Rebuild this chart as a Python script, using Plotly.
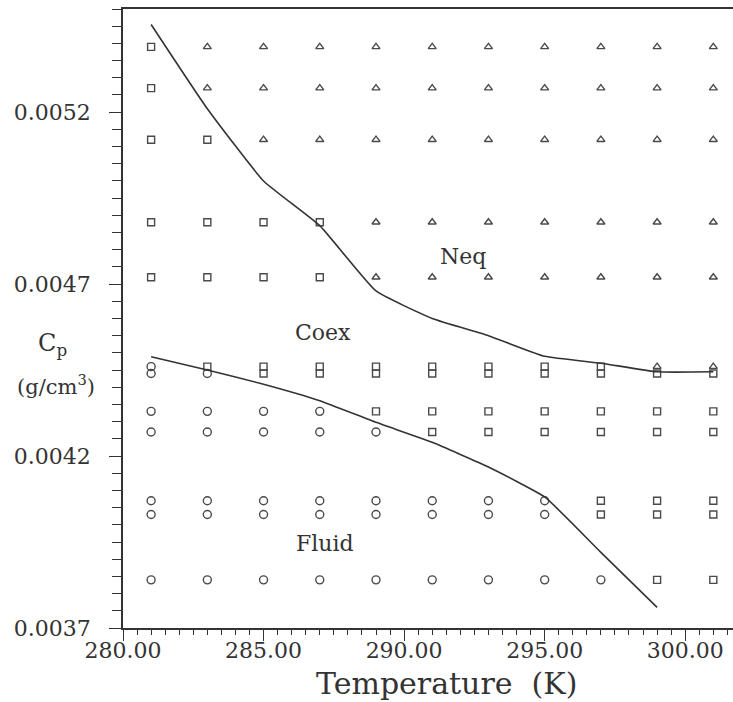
import plotly.graph_objects as go

# ---- data ----
temperatures = [281, 283, 285, 287, 289, 291, 293, 295, 297, 299, 301]
densities = [0.00539, 0.00527, 0.00512, 0.00488, 0.00472, 0.00446,
             0.00444, 0.00433, 0.00427, 0.00407, 0.00403, 0.00384]
# phase per row (top to bottom), one letter per temperature:
# S = Coex (square), N = Neq (triangle), F = Fluid (circle)
phase_rows = [
    "SNNNNNNNNNN",
    "SNNNNNNNNNN",
    "SSNNNNNNNNN",
    "SSSSNNNNNNN",
    "SSSSNNNNNNN",
    "FSSSSSSSSNN",
    "FFSSSSSSSSS",
    "FFFFSSSSSSS",
    "FFFFFSSSSSS",
    "FFFFFFFFSSS",
    "FFFFFFFFSSS",
    "FFFFFFFFFSS",
]
upper_T = [281, 283, 285, 287, 289, 291, 293, 295, 297, 299, 301]
upper_rho = [0.005455, 0.00521, 0.00500, 0.00487, 0.00468, 0.00460,
             0.00455, 0.00449, 0.00447, 0.004445, 0.004445]
lower_T = [281, 283, 285, 287, 289, 291, 293, 295, 297, 299]
lower_rho = [0.004489, 0.00445, 0.004409, 0.004361, 0.004298, 0.00424,
             0.004168, 0.004081, 0.00392, 0.00376]
region_labels = ["Neq", "Coex", "Fluid"]
region_T = [292.1, 287.1, 287.2]
region_rho = [0.004781, 0.004558, 0.003946]

FONT = "DejaVu Serif"
INK = "#333333"
MK = "#4a4a4a"

fig = go.Figure()

symbols = {"S": "square-open", "N": "triangle-up-open", "F": "circle-open"}
sizes = {"S": 7, "N": 7, "F": 8}
for code in ["S", "N", "F"]:
    xs, ys = [], []
    for r, row in enumerate(phase_rows):
        for c, ch in enumerate(row):
            if ch == code:
                xs.append(temperatures[c])
                ys.append(densities[r])
    fig.add_trace(go.Scatter(
        x=xs, y=ys, mode="markers", showlegend=False,
        marker=dict(symbol=symbols[code], size=sizes[code],
                    color=MK, line=dict(width=1.4, color=MK)),
    ))

for xs, ys in [(upper_T, upper_rho), (lower_T, lower_rho)]:
    fig.add_trace(go.Scatter(
        x=xs, y=ys, mode="lines", showlegend=False,
        line=dict(color=INK, width=1.6, shape="spline", smoothing=0.4),
    ))

for lab, tx, ty in zip(region_labels, region_T, region_rho):
    fig.add_annotation(x=tx, y=ty, text=lab, showarrow=False,
                       xanchor="center", yanchor="middle",
                       font=dict(family=FONT, size=22, color=INK))

# y-axis title (two lines, placed left of tick labels)
fig.add_annotation(xref="paper", yref="paper", x=(52 - 123) / 610, y=(628 - 344) / 619,
                   text="C<sub>p</sub>", showarrow=False,
                   xanchor="center", yanchor="middle",
                   font=dict(family=FONT, size=24, color=INK))
fig.add_annotation(xref="paper", yref="paper", x=(56 - 123) / 610, y=(628 - 385) / 619,
                   text="(g/cm<sup>3</sup>)", showarrow=False,
                   xanchor="center", yanchor="middle",
                   font=dict(family=FONT, size=21, color=INK))
# x-axis title
fig.add_annotation(xref="paper", yref="paper", x=(446 - 123) / 610, y=(628 - 683) / 619,
                   text="Temperature&nbsp;&nbsp;(K)", showarrow=False,
                   xanchor="center", yanchor="middle",
                   font=dict(family=FONT, size=30, color=INK))

fig.update_layout(
    width=733, height=702,
    margin=dict(l=123, r=0, t=9, b=74),
    paper_bgcolor="white", plot_bgcolor="white",
    font=dict(family=FONT, color=INK),
    xaxis=dict(
        range=[280, 301.7], tick0=280, dtick=5, tickformat=".2f",
        showgrid=False, zeroline=False,
        showline=True, linecolor=INK, linewidth=1.5, mirror=True,
        ticks="outside", ticklen=11, tickwidth=1.2, tickcolor=INK,
        tickfont=dict(family=FONT, size=22, color=INK),
        ticklabelstandoff=-9,
        minor=dict(dtick=0.5, ticks="outside", ticklen=5, tickwidth=1, tickcolor=INK, showgrid=False),
    ),
    yaxis=dict(
        range=[0.0037, 0.0055], tick0=0.0037, dtick=0.0005, tickformat=".4f",
        showgrid=False, zeroline=False,
        showline=True, linecolor=INK, linewidth=1.5,
        ticks="outside", ticklen=12, tickwidth=1.2, tickcolor=INK,
        tickfont=dict(family=FONT, size=22, color=INK),
        ticklabelstandoff=14,
        minor=dict(dtick=0.00005, ticks="outside", ticklen=9, tickwidth=1, tickcolor=INK, showgrid=False),
    ),
)

fig.write_html("out.html")
